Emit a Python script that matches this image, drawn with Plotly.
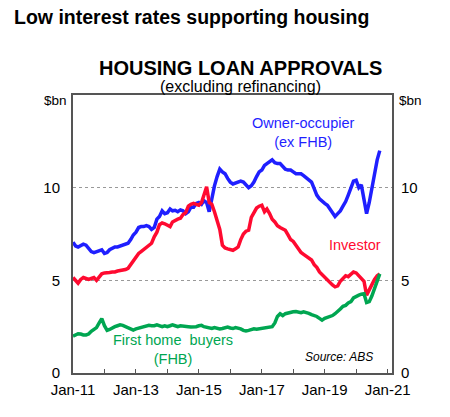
import pandas as pd
import plotly.graph_objects as go

# monthly loan approvals, $bn, Jan-2011 .. Oct-2020
months = pd.date_range("2011-01-01", periods=118, freq="MS")

owner_occupier = [
    7.05, 6.85, 6.80, 6.90, 6.95, 6.90, 6.75, 6.55, 6.50, 6.55, 6.60, 6.65,
    6.45, 6.50, 6.65, 6.75, 6.80, 6.80, 6.85, 6.90, 6.95, 7.00, 7.20, 7.45,
    7.60, 7.85, 7.90, 7.90, 7.95, 7.90, 7.75, 7.85, 8.30, 8.45, 8.75, 8.60,
    8.65, 8.85, 8.75, 8.78, 8.70, 8.80, 8.75, 8.60, 8.70, 8.95, 8.95, 9.15,
    9.20, 9.10, 9.30, 9.20, 8.70, 9.45, 10.10, 10.60, 11.00, 10.85, 10.75, 10.50,
    10.30, 10.20, 10.25, 10.30, 10.35, 10.30, 10.15, 10.00, 10.10, 10.30, 10.60, 10.85,
    10.95, 11.20, 11.30, 11.40, 11.50, 11.35, 11.30, 11.30, 11.15, 11.00, 10.95, 10.95,
    10.85, 10.75, 10.75, 10.75, 10.65, 10.55, 10.45, 10.30, 9.95, 9.60, 9.40, 9.25,
    9.15, 9.05, 8.85, 8.70, 8.45, 8.60, 8.75, 9.00, 9.25, 9.60, 9.95, 10.35,
    10.40, 10.00, 10.15, 9.40, 8.60, 9.20, 9.95, 10.90, 11.50, 12.00,
]

investor = [
    5.15, 5.00, 4.85, 5.05, 5.15, 5.10, 5.05, 5.10, 5.15, 5.00, 5.20, 5.35,
    5.40, 5.40, 5.42, 5.45, 5.45, 5.50, 5.52, 5.55, 5.58, 5.65, 5.85, 6.00,
    6.20, 6.45, 6.55, 6.65, 6.80, 6.90, 7.00, 7.35, 7.60, 8.00, 8.10, 8.05,
    7.95, 7.90, 8.15, 8.25, 8.30, 8.35, 8.55, 8.65, 9.00, 9.10, 9.15, 9.10,
    9.05, 9.20, 9.60, 10.05, 9.20, 9.10, 8.70, 8.20, 7.75, 6.90, 6.75, 6.70,
    6.65, 6.62, 6.70, 6.80, 7.20, 7.50, 7.65, 7.70, 8.40, 8.70, 8.90, 9.00,
    9.05, 8.70, 8.85, 8.60, 8.30, 8.15, 7.95, 7.85, 7.75, 7.70, 7.45, 7.20,
    7.10, 6.90, 6.75, 6.50, 6.40, 6.30, 6.25, 6.10, 5.85, 5.70, 5.45, 5.30,
    5.15, 5.00, 4.85, 4.75, 4.65, 4.70, 4.95, 5.10, 5.25, 5.20, 5.35, 5.45,
    5.40, 5.25, 5.15, 4.95, 4.20, 4.50, 4.80, 5.05, 5.25, 5.35,
]

first_home = [
    1.98, 2.05, 2.12, 2.10, 2.05, 2.05, 2.10, 2.25, 2.35, 2.45, 2.70, 2.93,
    2.55, 2.30, 2.35, 2.45, 2.50, 2.55, 2.60, 2.57, 2.50, 2.45, 2.35, 2.32,
    2.38, 2.42, 2.45, 2.50, 2.52, 2.57, 2.55, 2.55, 2.60, 2.55, 2.50, 2.55,
    2.50, 2.55, 2.60, 2.55, 2.50, 2.55, 2.52, 2.50, 2.50, 2.48, 2.47, 2.50,
    2.55, 2.57, 2.50, 2.45, 2.42, 2.40, 2.45, 2.42, 2.38, 2.40, 2.45, 2.48,
    2.43, 2.40, 2.45, 2.42, 2.38, 2.30, 2.27, 2.30, 2.35, 2.38, 2.36, 2.38,
    2.40, 2.42, 2.45, 2.45, 2.50, 2.70, 3.05, 3.20, 3.10, 3.20, 3.25, 3.28,
    3.30, 3.32, 3.28, 3.25, 3.30, 3.28, 3.22, 3.15, 3.10, 3.05, 2.95, 2.85,
    2.95, 3.00, 3.02, 3.10, 3.20, 3.30, 3.45, 3.60, 3.65, 3.78, 3.85, 4.05,
    4.15, 4.20, 4.25, 4.28, 3.80, 3.85, 4.15, 4.60, 5.00, 5.35,
]

tick_dates = pd.date_range("2011-01-01", "2021-01-01", freq="YS")
tick_labels = ["Jan-11", "", "Jan-13", "", "Jan-15", "", "Jan-17", "", "Jan-19", "", "Jan-21"]
y_ticks = [0, 5, 10]

BLUE = "#1f1fff"
RED = "#ff0a30"
GREEN = "#00a651"
FONT = "Arial, Liberation Sans, sans-serif"

fig = go.Figure()
fig.add_trace(go.Scatter(x=months, y=owner_occupier, mode="lines",
                         line=dict(color=BLUE, width=3.5)))
fig.add_trace(go.Scatter(x=months, y=investor, mode="lines",
                         line=dict(color=RED, width=3.5)))
fig.add_trace(go.Scatter(x=months, y=first_home, mode="lines",
                         line=dict(color=GREEN, width=3.5)))
# invisible trace so the right-hand axis gets drawn
fig.add_trace(go.Scatter(x=months[:1], y=[0], yaxis="y2", mode="lines",
                         line=dict(width=0), hoverinfo="skip"))

fig.update_layout(
    width=450,
    height=417,
    margin=dict(l=73, r=58, t=95, b=44),
    paper_bgcolor="white",
    plot_bgcolor="white",
    showlegend=False,
    font=dict(family=FONT, size=15, color="black"),
    title=dict(
        text="<b>Low interest rates supporting housing</b>",
        x=14 / 450, xref="container", xanchor="left",
        y=1 - 17 / 417, yref="container", yanchor="middle",
        font=dict(size=19.5, color="black"),
    ),
    xaxis=dict(
        type="date",
        range=["2011-01-01", "2021-02-20"],
        tickvals=tick_dates,
        ticktext=tick_labels,
        ticks="inside",
        ticklen=4,
        tickcolor="#555555",
        tickwidth=1,
        ticklabelstandoff=2,
        showgrid=False,
        showline=True,
        linecolor="#555555",
        linewidth=2,
        mirror=True,
        tickfont=dict(size=15),
    ),
    yaxis=dict(
        range=[0, 15],
        tickvals=y_ticks,
        showgrid=True,
        gridcolor="#999999",
        griddash="dot",
        gridwidth=1,
        zeroline=False,
        showline=True,
        linecolor="#555555",
        linewidth=2,
        mirror=True,
        ticks="",
        ticklabelstandoff=8,
        tickfont=dict(size=15),
    ),
    yaxis2=dict(
        range=[0, 15],
        overlaying="y",
        side="right",
        tickvals=y_ticks,
        showgrid=False,
        zeroline=False,
        showline=False,
        ticks="",
        ticklabelstandoff=8,
        tickfont=dict(size=15),
    ),
)

annotations = [
    dict(text="<b>HOUSING LOAN APPROVALS</b>", xref="paper", yref="paper",
         x=0.526, y=1.097, yanchor="middle", showarrow=False, font=dict(size=20)),
    dict(text="(excluding refinancing)", xref="paper", yref="paper",
         x=0.526, y=1.030, yanchor="middle", showarrow=False, font=dict(size=16)),
    dict(text="$bn", xref="paper", yref="paper", x=-0.012, y=0.98,
         xanchor="right", yanchor="middle", showarrow=False, font=dict(size=13.5)),
    dict(text="$bn", xref="paper", yref="paper", x=1.015, y=0.98,
         xanchor="left", yanchor="middle", showarrow=False, font=dict(size=13.5)),
    dict(text="Owner-occupier<br>(ex FHB)", x="2018-05-01", y=12.95,
         showarrow=False, font=dict(size=14.5, color=BLUE)),
    dict(text="Investor", x="2019-12-20", y=6.92,
         showarrow=False, font=dict(size=14.5, color=RED)),
    dict(text="First home\u00a0 buyers<br>(FHB)", x="2014-03-01", y=1.25,
         showarrow=False, font=dict(size=14.5, color=GREEN)),
    dict(text="<i>Source: ABS</i>", x="2019-06-20", y=0.88,
         showarrow=False, font=dict(size=12)),
]
fig.update_layout(annotations=annotations)

fig.write_html(
    "out.html",
    config={"displayModeBar": False},
    post_script="document.body.style.margin='0';",
)
